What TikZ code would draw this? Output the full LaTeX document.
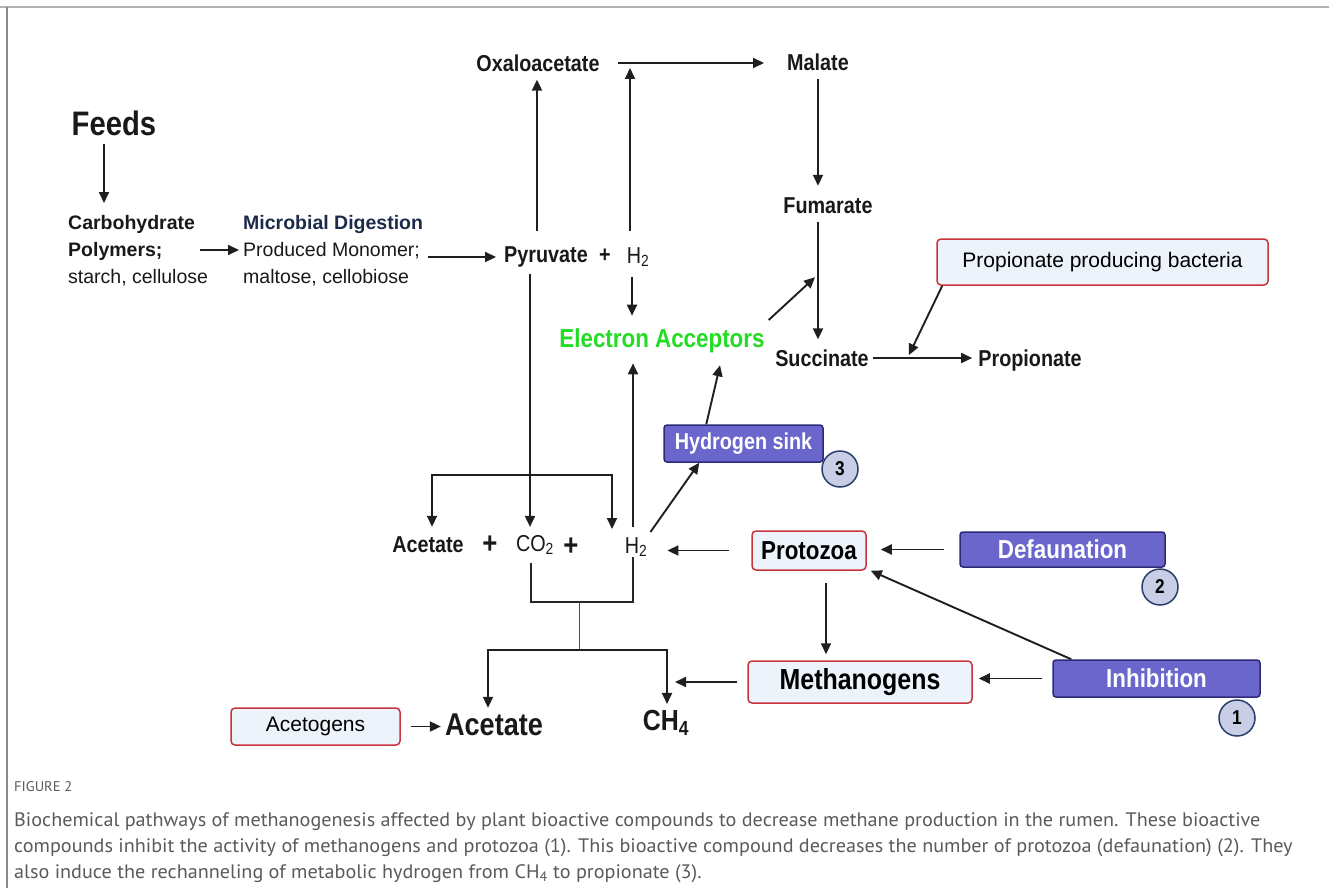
\documentclass[tikz,border=0pt]{standalone}
\usepackage{fontspec}
\setmainfont{Liberation Sans}
\newfontfamily\cond[FakeStretch=0.86]{Liberation Sans}
\newfontfamily\capfont[FakeStretch=1.035]{PT Sans}
\usetikzlibrary{arrows.meta,calc}
\definecolor{purp}{HTML}{6A66CC}
\definecolor{purpd}{HTML}{2D2A77}
\definecolor{circf}{HTML}{C8CEE6}
\definecolor{circd}{HTML}{2A3D6B}
\definecolor{redb}{HTML}{C9343C}
\definecolor{boxf}{HTML}{EDF3FB}
\definecolor{eagreen}{HTML}{22DD22}
\definecolor{navy}{HTML}{1C2B4A}
\definecolor{capgray}{HTML}{5A5A5A}
\newcommand{\fs}[1]{\fontsize{#1}{#1}\selectfont}
\tikzset{
  lbl/.style={inner sep=0pt, text=black!90},
  bl/.style={lbl, font=\cond\bfseries\fs{23}},
  arr/.style={-{Triangle[length=11pt,width=10pt]}, line width=1.9pt, draw=black!88},
  dblarr/.style={{Triangle[length=11pt,width=10pt]}-{Triangle[length=11pt,width=10pt]}, line width=1.9pt, draw=black!88},
  plainline/.style={line width=1.8pt, draw=black!85},
  purpbox/.style={draw=purpd, fill=purp, line width=1.5pt, rounded corners=3pt, text=white, font=\cond\bfseries\fs{26}, inner sep=0pt},
  redbox/.style={draw=redb, fill=boxf, line width=1.5pt, rounded corners=4pt, inner sep=0pt},
  numc/.style={circle, draw=circd, fill=circf, line width=1.5pt, minimum size=36pt, inner sep=0pt, font=\cond\bfseries\fs{20}},
  captext/.style={anchor=base west, inner sep=0pt, text=capgray, font=\capfont\fs{19.5}}
}
\begin{document}
\begin{tikzpicture}[x=1pt,y=-1pt]
\useasboundingbox (0,0) rectangle (1329,888);
\fill[white] (0,0) rectangle (1329,888);
\draw[line width=2.5pt, draw=black!30] (0,7) -- (1329,7);
\draw[line width=1.5pt, draw=black!45] (7,7) -- (7,888);

% top-left
\node[lbl, font=\cond\bfseries\fs{34}] (feeds) at (114,123) {Feeds};
\node[lbl, anchor=north west, align=left, font=\fs{19.5}] (carb) at (68,215)
  {\textbf{Carbohydrate}\\[7.5pt]\textbf{Polymers;}\\[7.5pt]starch, cellulose};
\node[lbl, anchor=north west, align=left, font=\fs{19.5}] (micro) at (243,215)
  {\textcolor{navy}{\textbf{Microbial Digestion}}\\[7.5pt]Produced Monomer;\\[7.5pt]maltose, cellobiose};

\node[bl] (pyr) at (546,257) {Pyruvate};
\node[bl] (plus1) at (605,256) {+};
\node[lbl, font=\cond\fs{23}] (h2a) at (638,257) {H\textsubscript{2}};

\node[bl] (oxa) at (538,63) {Oxaloacetate};
\node[bl] (mal) at (818,62) {Malate};
\node[bl] (fum) at (828,206) {Fumarate};
\node[bl] (succ) at (822,358) {Succinate};
\node[bl] (prop) at (1030,361) {Propionate};
\node[lbl, text=eagreen, font=\cond\bfseries\fs{26}] (ea) at (662,341) {Electron Acceptors};

\node[redbox, minimum width=331pt, minimum height=46pt, font=\fs{21}] (ppb) at (1102.5,262) {Propionate producing bacteria};

% middle row
\node[bl] (acet) at (428,545) {Acetate};
\node[lbl, font=\cond\bfseries\fs{30}] (plus2) at (490,545) {+};
\node[lbl, font=\cond\fs{23}] (co2) at (535,545) {CO\textsubscript{2}};
\node[lbl, font=\cond\bfseries\fs{30}] (plus3) at (571,547) {+};
\node[lbl, font=\cond\fs{23}] (h2b) at (636,547) {H\textsubscript{2}};

\node[purpbox, minimum width=159pt, minimum height=37pt, font=\cond\bfseries\fs{23}] (hs) at (743.5,443.5) {Hydrogen sink};
\node[numc] (n3) at (840,469) {3};

\node[redbox, minimum width=114pt, minimum height=39pt, font=\cond\bfseries\fs{26}] (pz) at (809,550.5) {Protozoa};
\node[purpbox, minimum width=205pt, minimum height=35pt] (df) at (1062.5,549.5) {Defaunation};
\node[numc] (n2) at (1160,587) {2};

\node[redbox, minimum width=224pt, minimum height=42pt, font=\cond\bfseries\fs{29}] (mg) at (860,682) {Methanogens};
\node[purpbox, minimum width=207pt, minimum height=37pt] (inh) at (1156.5,678.5) {Inhibition};
\node[numc] (n1) at (1237,718) {1};

% bottom
\node[redbox, minimum width=169pt, minimum height=37pt, font=\fs{21}] (ag) at (315.5,726.5) {Acetogens};
\node[lbl, font=\cond\bfseries\fs{31.5}] (acet2) at (494,725) {Acetate};
\node[lbl, font=\cond\bfseries\fs{29}] (ch4) at (666,723) {CH\textsubscript{4}};

% connectors: top-left
\draw[arr, shorten <=8pt, shorten >=12pt] ([xshift=-10pt]feeds.south) -- ([xshift=-10pt]feeds.south |- carb.north);
\coordinate (c1) at (200,250);
\draw[arr, shorten >=4pt] (c1) -- (c1 -| micro.west);
\draw[arr, shorten <=5pt, shorten >=8pt] (micro.east |- pyr.west) -- (pyr.west);

% pyruvate / H2
\draw[arr, shorten <=16pt, shorten >=8pt] ([xshift=-9pt]pyr.north) -- ([xshift=-9pt]pyr.north |- oxa.south);
\draw[arr, shorten <=16pt] ([xshift=-8pt]h2a.north) -- ($([xshift=-8pt]h2a.north |- oxa.center)+(0,5)$);
\draw[arr, shorten <=10pt, shorten >=13pt] ([xshift=-6pt]h2a.south) -- ([xshift=-6pt]h2a.south |- ea.north);
\draw[arr, shorten <=6pt, shorten >=8pt] ([xshift=-16pt]pyr.south) -- ([xshift=-16pt]pyr.south |- co2.north);

% TCA side
\draw[arr, shorten <=18pt, shorten >=23pt] (oxa.east) -- (oxa.east -| mal.west);
\draw[arr, shorten <=8pt, shorten >=12pt] (mal.south) -- (mal.south |- fum.north);
\draw[arr, shorten <=8pt, shorten >=10pt] (mal.south |- fum.south) -- (mal.south |- succ.north);
\draw[arr] ($(ea.east)+(4,-21)$) -- ($(fum.south)+(-13,63)$);
\draw[arr, shorten <=4pt, shorten >=6pt] (succ.east) -- (succ.east -| prop.west);
\draw[arr] ($(ppb.south west)+(6,0)$) -- ($(succ.east)+(40,-3)$);

% hydrogen sink
\draw[arr] ($(h2b.north east)+(3,-5)$) -- ($(hs.south west)+(36,0)$);
\draw[arr] ($(hs.north west)+(43,0)$) -- ($(ea.south)+(58,12)$);
\draw[arr, shorten <=10pt, shorten >=10pt] ([xshift=-3pt]h2b.north) -- ([xshift=-3pt]h2b.north |- ea.south);

% top bracket
\coordinate (tbL) at (432,475);
\coordinate (tbR) at (612,475);
\draw[dblarr, shorten <=10pt, shorten >=8pt] (tbL |- acet.north) -- (tbL) -- (tbR) -- (tbR |- h2b.north);

% bottom bracket
\coordinate (b1) at (531,602);
\coordinate (b2) at (633,602);
\coordinate (b3) at (579,602);
\coordinate (b4) at (579,650);
\coordinate (b5) at (488,650);
\coordinate (b6) at (667,650);
\draw[plainline, line width=1.3pt, shorten <=8pt] (b1 |- co2.south) -- (b1) -- (b2) -- (b2 |- h2b.south);
\draw[line width=1pt, draw=black!70] (b3) -- (b4);
\draw[dblarr, shorten <=6pt, shorten >=6pt] (b5 |- acet2.north) -- (b5) -- (b6) -- (b6 |- ch4.north);

% right-side regulators
\draw[arr, shorten <=22pt, shorten >=20pt] (pz.west) -- (pz.west -| h2b.east);
\draw[arr, shorten <=15pt, shorten >=14pt] (df.west) -- (df.west -| pz.east);
\draw[arr, shorten <=12pt, shorten >=6pt] ([xshift=17pt]pz.south) -- ([xshift=17pt]pz.south |- mg.north);
\draw[arr, shorten <=10pt, shorten >=6pt] (inh.west) -- (inh.west -| mg.east);
\draw[arr] ($(inh.north west)+(19,0)$) -- ($(pz.south east)+(4,0)$);
\draw[arr, shorten <=10pt, shorten >=8pt] (mg.west) -- (mg.west -| b6);
\draw[arr, shorten <=10pt, shorten >=4pt] (ag.east) -- (ag.east -| acet2.west);

% caption
\node[captext, font=\capfont\fs{14}] (figlab) at (14,791) {FIGURE 2};
\node[captext] (cap1) at (14,826) {Biochemical pathways of methanogenesis affected by plant bioactive compounds to decrease methane production in the rumen. These bioactive};
\node[captext] (cap2) at (14,852) {compounds inhibit the activity of methanogens and protozoa (1). This bioactive compound decreases the number of protozoa (defaunation) (2). They};
\node[captext] (cap3) at (14,878) {also induce the rechanneling of metabolic hydrogen from CH\textsubscript{4} to propionate (3).};
\end{tikzpicture}
\end{document}
